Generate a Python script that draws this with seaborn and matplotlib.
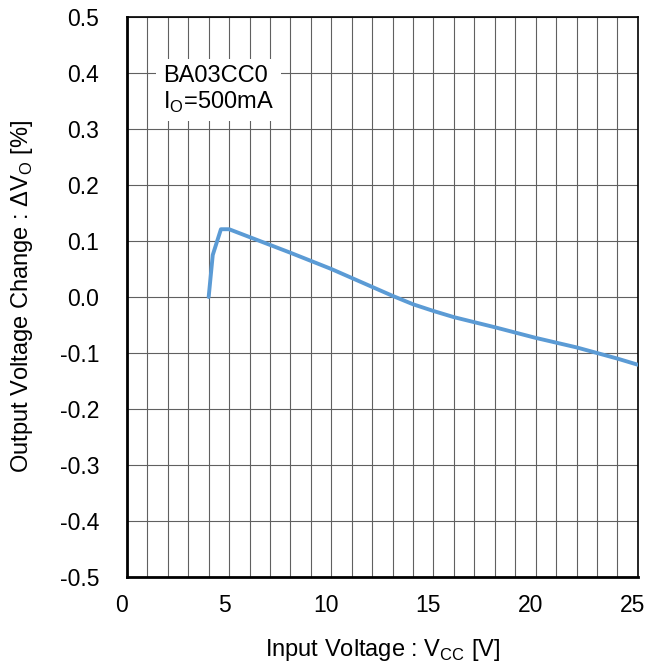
import numpy as np
import pandas as pd
import seaborn as sns
import matplotlib.pyplot as plt
from matplotlib.ticker import MultipleLocator, FormatStrFormatter
import matplotlib.transforms as mtransforms

# data
vcc = [4.0, 4.2, 4.6, 5.0, 6.0, 8.0, 10.0, 11.0, 12.0, 13.0, 14.0, 15.0, 16.0, 17.0, 18.0, 20.0, 22.0, 23.0, 24.0, 25.0]
dvo = [0.0, 0.075, 0.121, 0.121, 0.107, 0.079, 0.05, 0.034, 0.018, 0.002, -0.013, -0.025, -0.036, -0.045, -0.054, -0.073, -0.09, -0.1, -0.11, -0.121]
label_text = "BA03CC0\nI$_\\mathregular{O}$=500mA"

df = pd.DataFrame({'vcc': vcc, 'dvo': dvo})

sns.set_style('white')
plt.rcParams['font.family'] = ['Liberation Sans', 'DejaVu Sans']
plt.rcParams['axes.unicode_minus'] = False
plt.rcParams['mathtext.fontset'] = 'custom'
plt.rcParams['mathtext.rm'] = 'Liberation Sans'
plt.rcParams['text.color'] = 'black'
plt.rcParams['axes.labelcolor'] = 'black'
plt.rcParams['xtick.color'] = 'black'
plt.rcParams['ytick.color'] = 'black'

fig = plt.figure(figsize=(6.61, 6.68), dpi=100)
ax = fig.add_axes([0.192, 0.1362, 0.773, 0.8384])

sns.lineplot(data=df, x='vcc', y='dvo', ax=ax, color='#5b9bd5', linewidth=2.8,
             estimator=None, sort=False, zorder=3)

ax.set_xlim(0, 25)
ax.set_ylim(-0.5, 0.5)
ax.xaxis.set_major_locator(MultipleLocator(5))
ax.xaxis.set_minor_locator(MultipleLocator(1))
ax.yaxis.set_major_locator(MultipleLocator(0.1))
ax.yaxis.set_major_formatter(FormatStrFormatter('%.1f'))
ax.grid(which='both', axis='x', color='#606060', linewidth=0.8)
ax.grid(which='major', axis='y', color='#606060', linewidth=0.8)
ax.set_axisbelow(True)
ax.tick_params(axis='both', which='both', length=0, labelsize=16.5, labelcolor='black')
ax.tick_params(axis='y', pad=20)
ax.tick_params(axis='x', pad=12)
off = mtransforms.ScaledTranslation(-5 / 100, 0, fig.dpi_scale_trans)
for lbl in ax.get_xticklabels():
    lbl.set_transform(lbl.get_transform() + off)

for s in ax.spines.values():
    s.set_color('black')
    s.set_linewidth(1.2)
ax.spines['left'].set_linewidth(2)
ax.spines['bottom'].set_linewidth(2)

ax.set_xlabel('Input Voltage : V$_\\mathregular{CC}$ [V]', fontsize=17, va='center')
ax.set_ylabel('Output Voltage Change : ΔV$_\\mathregular{O}$ [%]', fontsize=17, va='center')
ax.xaxis.set_label_coords(0.5, -0.13)
ax.yaxis.set_label_coords(-0.205, 0.5)

ax.text(1.75, 0.415, label_text, fontsize=17, va='top', ha='left', linespacing=1.15,
        bbox=dict(facecolor='white', edgecolor='none', pad=5), zorder=4)

fig.savefig('out.png', dpi=100)
